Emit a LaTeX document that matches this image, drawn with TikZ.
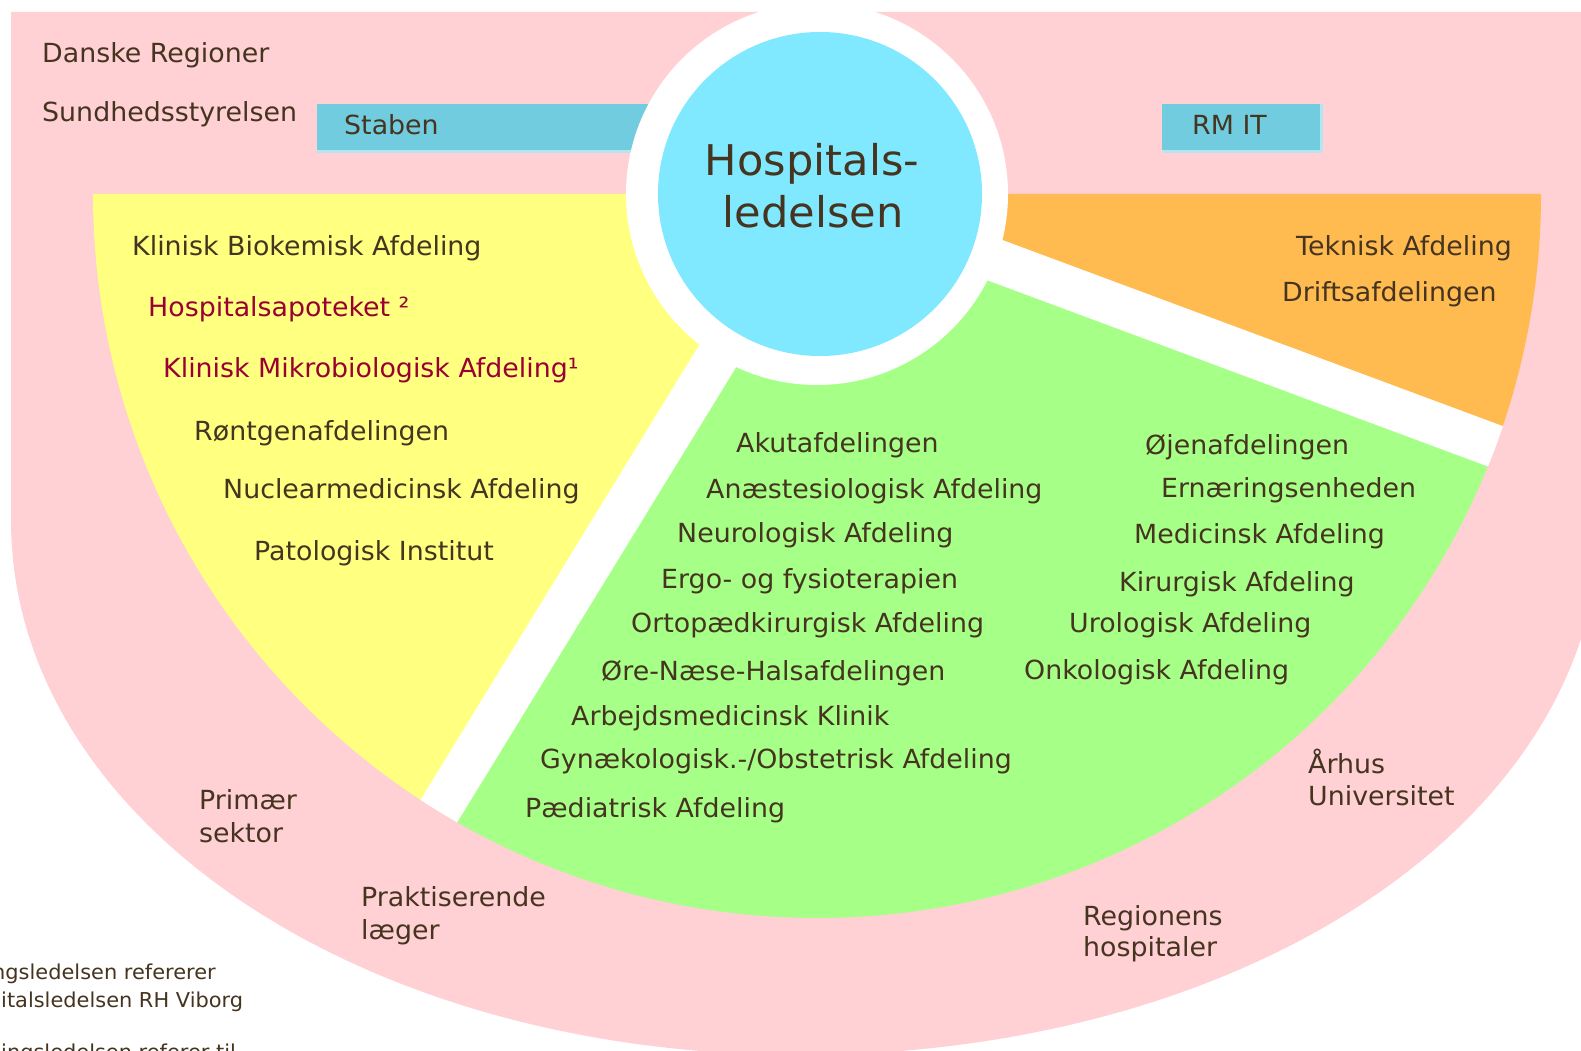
\documentclass[tikz,border=0pt]{standalone}
\usepackage{fontspec}
\setmainfont{DejaVu Sans}[FakeStretch=1.02]
\definecolor{pinkc}{HTML}{FFD0D4}
\definecolor{yelc}{HTML}{FFFF80}
\definecolor{grnc}{HTML}{A6FF86}
\definecolor{orac}{HTML}{FFBB50}
\definecolor{bluec}{HTML}{80E9FF}
\definecolor{boxc}{HTML}{70CCDE}
\definecolor{boxl}{HTML}{B4E6EF}
\definecolor{txtc}{HTML}{45341F}
\definecolor{redc}{HTML}{990033}
\begin{document}
\begin{tikzpicture}[x=1pt,y=1pt,yscale=-1,
  lbl/.style={anchor=base west, inner sep=0pt, text=txtc, font=\fontsize{26.3}{31}\selectfont},
  redlbl/.style={lbl, text=redc},
  big/.style={anchor=base, inner sep=0pt, text=txtc, font=\fontsize{42.3}{51}\selectfont},
  foot/.style={anchor=base west, inner sep=0pt, text=txtc, font=\fontsize{20.5}{25}\selectfont},
  gap/.style={white, line width=43pt}]
\useasboundingbox (0,0) rectangle (1581,1051);
\fill[white] (0,0) rectangle (1581,1051);
% pink background shape
\fill[pinkc] (11,12) -- (11,520)
  .. controls (11,820) and (358,1055) .. (800,1055)
  .. controls (1248,1055) and (1600,820) .. (1600,520)
  -- (1600,12) -- cycle;
% boxes
\fill[boxl] (317,150) rectangle (700,153);
\fill[boxc] (317,104) rectangle (700,150);
\fill[boxl] (1163,150) rectangle (1322,153);
\fill[boxl] (1320,104) rectangle (1323,150);
\fill[boxc] (1162,104) rectangle (1320,150);
% sectors
\coordinate (C) at (817,194);
\fill[yelc] (C) -- ++(180:724) arc[start angle=180, end angle=121.5, radius=724] -- cycle;
\fill[grnc] (C) -- ++(121.5:724) arc[start angle=121.5, end angle=20.4, radius=724] -- cycle;
\fill[orac] (C) -- ++(20.4:724) arc[start angle=20.4, end angle=0, radius=724] -- cycle;
\begin{scope}
\clip (C) circle[radius=724];
\draw[gap] (C) -- ++(121.5:800);
\draw[gap] (C) -- ++(20.4:800);
\end{scope}
\fill[white] (C) circle[radius=191];
\node[circle, fill=bluec, minimum size=324pt, inner sep=0pt] (hl) at (820,194) {};
\node[big] (hl1) at (812,176) {Hospitals-};
\node[big] (hl2) at (813,227) {ledelsen};
% top texts
\node[lbl] (dr) at (42,63) {Danske Regioner};
\node[lbl] (sst) at (42,122) {Sundhedsstyrelsen};
\node[lbl] (stab) at (344,135) {Staben};
\node[lbl] (rmit) at (1192,135) {RM IT};
% yellow
\node[lbl] (y1) at (132,255) {Klinisk Biokemisk Afdeling};
\node[redlbl] (y2) at (148,316) {Hospitalsapoteket ²};
\node[redlbl] (y3) at (163,377) {Klinisk Mikrobiologisk Afdeling¹};
\node[lbl] (y4) at (194,440) {Røntgenafdelingen};
\node[lbl] (y5) at (223,498) {Nuclearmedicinsk Afdeling};
\node[lbl] (y6) at (254,560) {Patologisk Institut};
% green left
\node[lbl] (g1) at (736,452) {Akutafdelingen};
\node[lbl] (g2) at (706,498) {Anæstesiologisk Afdeling};
\node[lbl] (g3) at (677,542) {Neurologisk Afdeling};
\node[lbl] (g4) at (661,588) {Ergo- og fysioterapien};
\node[lbl] (g5) at (631,632) {Ortopædkirurgisk Afdeling};
\node[lbl] (g6) at (601,680) {Øre-Næse-Halsafdelingen};
\node[lbl] (g7) at (571,725) {Arbejdsmedicinsk Klinik};
\node[lbl] (g8) at (540,768) {Gynækologisk.-/Obstetrisk Afdeling};
\node[lbl] (g9) at (525,817) {Pædiatrisk Afdeling};
% green right
\node[lbl] (h1) at (1145,454) {Øjenafdelingen};
\node[lbl] (h2) at (1161,497) {Ernæringsenheden};
\node[lbl] (h3) at (1134,543) {Medicinsk Afdeling};
\node[lbl] (h4) at (1119,591) {Kirurgisk Afdeling};
\node[lbl] (h5) at (1069,632) {Urologisk Afdeling};
\node[lbl] (h6) at (1024,679) {Onkologisk Afdeling};
% orange
\node[lbl] (o1) at (1296,255) {Teknisk Afdeling};
\node[lbl] (o2) at (1282,301) {Driftsafdelingen};
% pink labels
\node[lbl] (p1) at (199,809) {Primær};
\node[lbl] (p2) at (199,842) {sektor};
\node[lbl] (q1) at (361,906) {Praktiserende};
\node[lbl] (q2) at (361,939) {læger};
\node[lbl] (r1) at (1083,925) {Regionens};
\node[lbl] (r2) at (1083,956) {hospitaler};
\node[lbl] (a1) at (1308,773) {Århus};
\node[lbl] (a2) at (1308,805) {Universitet};
% footnotes
\node[foot] (f1) at (-8,979) {ngsledelsen refererer};
\node[foot] (f2) at (1,1007) {italsledelsen RH Viborg};
\node[foot] (f3) at (1,1059) {ingsledelsen referer til};
\end{tikzpicture}
\end{document}
